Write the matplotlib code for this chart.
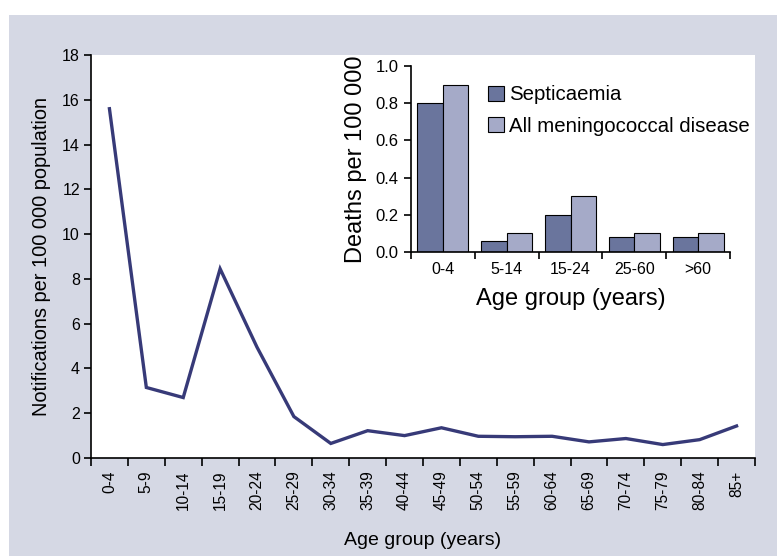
import matplotlib
matplotlib.use("Agg")
import matplotlib.pyplot as plt
import numpy as np
from matplotlib.patches import Rectangle

plt.rcParams['font.family'] = ['Liberation Sans', 'DejaVu Sans']

# Main chart data
age_groups = ["0-4", "5-9", "10-14", "15-19", "20-24", "25-29", "30-34", "35-39",
              "40-44", "45-49", "50-54", "55-59", "60-64", "65-69", "70-74",
              "75-79", "80-84", "85+"]
notifications = [15.6, 3.15, 2.7, 8.45, 4.95, 1.85, 0.65, 1.22, 1.0, 1.35,
                 0.97, 0.95, 0.97, 0.72, 0.87, 0.6, 0.82, 1.43]
main_yticks = [0, 2, 4, 6, 8, 10, 12, 14, 16, 18]

# Inset data
inset_groups = ["0-4", "5-14", "15-24", "25-60", ">60"]
septicaemia = [0.8, 0.06, 0.2, 0.08, 0.08]
all_mening = [0.9, 0.1, 0.3, 0.1, 0.1]
inset_yticks = [0.0, 0.2, 0.4, 0.6, 0.8, 1.0]

bg = "#d5d8e4"
line_col = "#373a78"
dark_bar = "#6a759d"
light_bar = "#a5aac8"

W, H = 777, 556
fig = plt.figure(figsize=(W / 100, H / 100), dpi=100)
fig.patch.set_facecolor("white")
fig.add_artist(Rectangle((9 / W, 0), 1 - 9 / W, 1 - 15 / H, transform=fig.transFigure,
                         facecolor=bg, edgecolor="none", zorder=-10))

# main axes
l, r, t, b = 91 / W, 755 / W, 55 / H, 458 / H
ax = fig.add_axes([l, 1 - b, r - l, b - t])
ax.set_facecolor("white")
x = np.arange(len(age_groups))
ax.plot(x, notifications, color=line_col, lw=2.4, solid_joinstyle="miter")
ax.set_xlim(-0.5, len(age_groups) - 0.5)
ax.set_ylim(0, 18)
ax.set_yticks(main_yticks)
ax.set_yticklabels([str(v) for v in main_yticks], fontsize=11.5)
ax.set_xticks(x)
ax.set_xticklabels(age_groups, rotation=90, fontsize=11.2)
ax.set_xticks(np.arange(-0.5, len(age_groups)), minor=True)
ax.tick_params(axis="x", which="major", length=0, pad=9)
ax.tick_params(axis="x", which="minor", length=6, width=1.2, direction="out")
ax.tick_params(axis="y", length=5, width=1.2, direction="out", pad=3)
for s in ["top", "right"]:
    ax.spines[s].set_visible(False)
for s in ["left", "bottom"]:
    ax.spines[s].set_linewidth(1.2)
ax.set_ylabel("Notifications per 100 000 population", fontsize=14.4, labelpad=8)
ax.set_xlabel("Age group (years)", fontsize=14, labelpad=16)

# inset axes
il, ir, it, ib = 411 / W, 730 / W, 66 / H, 252 / H
ins = fig.add_axes([il, 1 - ib, ir - il, ib - it])
ins.set_facecolor("none")
xi = np.arange(len(inset_groups))
ins.bar(xi - 0.2, septicaemia, width=0.4, color=dark_bar, edgecolor="black",
        linewidth=0.8, label="Septicaemia")
ins.bar(xi + 0.2, all_mening, width=0.4, color=light_bar, edgecolor="black",
        linewidth=0.8, label="All meningococcal disease")
ins.set_xlim(-0.5, len(inset_groups) - 0.5)
ins.set_ylim(0, 1.0)
ins.set_yticks(inset_yticks)
ins.set_yticklabels([f"{v:.1f}" for v in inset_yticks], fontsize=12)
ins.set_xticks(xi)
ins.set_xticklabels(inset_groups, fontsize=11.5)
ins.set_xticks(np.arange(-0.5, len(inset_groups)), minor=True)
ins.tick_params(axis="x", which="major", length=0, pad=7)
ins.tick_params(axis="x", which="minor", length=5, width=1.2, direction="out")
ins.tick_params(axis="y", length=5, width=1.2, direction="out", pad=4)
for s in ["top", "right"]:
    ins.spines[s].set_visible(False)
for s in ["left", "bottom"]:
    ins.spines[s].set_linewidth(1.2)
ins.set_ylabel("Deaths per 100 000", fontsize=17, labelpad=6)
ins.set_xlabel("Age group (years)", fontsize=17, labelpad=8)
ins.legend(loc="upper left", bbox_to_anchor=(0.198, 0.973), frameon=False, fontsize=14.7,
           handlelength=0.75, handleheight=0.75, handletextpad=0.25,
           labelspacing=0.6, borderaxespad=0.3)

fig.savefig("out.png", dpi=100)
